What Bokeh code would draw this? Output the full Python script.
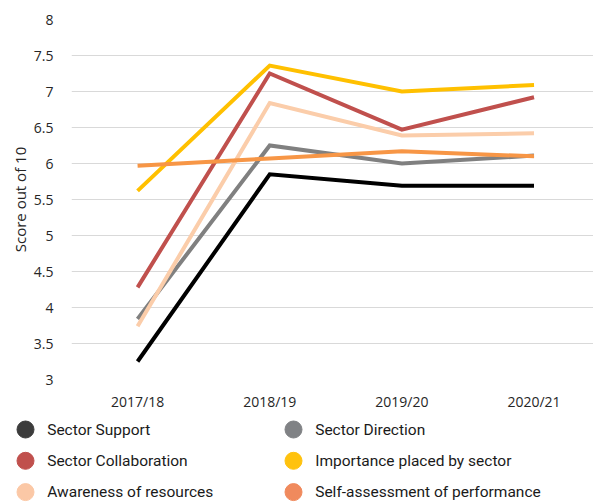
from bokeh.plotting import figure
from bokeh.models import Range1d, FixedTicker, ColumnDataSource
from bokeh.core.properties import value
from bokeh.embed import file_html
from bokeh.resources import INLINE

years = ["2017/18", "2018/19", "2019/20", "2020/21"]
x_pos = [0, 1, 2, 3]

sector_support = [3.25, 5.85, 5.69, 5.69]
sector_direction = [3.84, 6.25, 6.00, 6.11]
sector_collaboration = [4.28, 7.25, 6.47, 6.92]
importance_placed = [5.62, 7.36, 7.00, 7.09]
awareness_resources = [3.74, 6.84, 6.39, 6.42]
self_assessment = [5.97, 6.07, 6.17, 6.10]

series_names = ["Sector Support", "Sector Direction", "Sector Collaboration",
                "Importance placed by sector", "Awareness of resources",
                "Self-assessment of performance"]
series_values = [sector_support, sector_direction, sector_collaboration,
                 importance_placed, awareness_resources, self_assessment]
line_colors = ["#000000", "#808080", "#C0504D", "#FFC000", "#FBCDAA", "#F79646"]
legend_colors = ["#3C3C3C", "#808285", "#C0504D", "#FFC20E", "#FBC8A6", "#F08A5D"]

y_ticks = [3, 3.5, 4, 4.5, 5, 5.5, 6, 6.5, 7, 7.5, 8]
y_tick_labels = ["3", "3.5", "4", "4.5", "5", "5.5", "6", "6.5", "7", "7.5", "8"]

# ---------------- main chart ----------------
W = 593
main_h = 419
p = figure(width=W, height=main_h, output_backend="svg", toolbar_location=None,
           x_range=Range1d(-0.5, 3.45), y_range=Range1d(3, 8),
           min_border_left=71, min_border_right=0, min_border_top=19,
           min_border_bottom=40)
p.outline_line_color = None

p.xgrid.grid_line_color = None
p.ygrid.grid_line_color = "#D9D9D9"
p.ygrid.grid_line_width = 1
p.ygrid.ticker = FixedTicker(ticks=y_ticks)

p.xaxis.ticker = FixedTicker(ticks=x_pos)
p.xaxis.major_label_overrides = {x: lab for x, lab in zip(x_pos, years)}
p.yaxis.ticker = FixedTicker(ticks=y_ticks)
p.yaxis.major_label_overrides = {t: lab for t, lab in zip(y_ticks, y_tick_labels)}

for ax in (p.xaxis, p.yaxis):
    ax.axis_line_color = None
    ax.major_tick_line_color = None
    ax.minor_tick_line_color = None
    ax.major_label_text_font = "Open Sans"
    ax.major_label_text_font_size = "14px"
    ax.major_label_text_color = "#262626"

p.xaxis.major_label_standoff = 6
p.yaxis.major_label_standoff = 12
p.yaxis.axis_label = "Score out of 10"
p.yaxis.axis_label_text_font = "Open Sans"
p.yaxis.axis_label_text_font_size = "15px"
p.yaxis.axis_label_text_font_style = "normal"
p.yaxis.axis_label_text_color = "#262626"
p.yaxis.axis_label_standoff = 1

for vals, col in zip(series_values, line_colors):
    p.line(x_pos, vals, line_color=col, line_width=4, line_join="miter")

# ---------------- legend (two columns, three rows) ----------------
leg_h = 502 - main_h
lg = figure(width=W, height=leg_h, output_backend="svg", toolbar_location=None,
            x_range=Range1d(0, W), y_range=Range1d(leg_h, 0),
            x_axis_type=None, y_axis_type=None, min_border=0)
lg.grid.visible = False
lg.outline_line_color = None

col_pitch = 268
row_pitch = 31.3
n = len(series_names)
cx = [25 + (i % 2) * col_pitch for i in range(n)]
cy = [10 + (i // 2) * row_pitch for i in range(n)]
tx = [c + 21.7 for c in cx]
src = ColumnDataSource(dict(cx=cx, cy=cy, tx=tx, name=series_names,
                            color=legend_colors))
lg.scatter("cx", "cy", source=src, marker="circle", size=17,
           fill_color="color", line_color="color")
lg.text("tx", "cy", text="name", source=src, text_font=value("Roboto"),
        text_font_size="15.5px", text_baseline="middle", text_align="left",
        text_color="#1A1A1A")

open("out.html", "w").write(file_html([p, lg], INLINE))
